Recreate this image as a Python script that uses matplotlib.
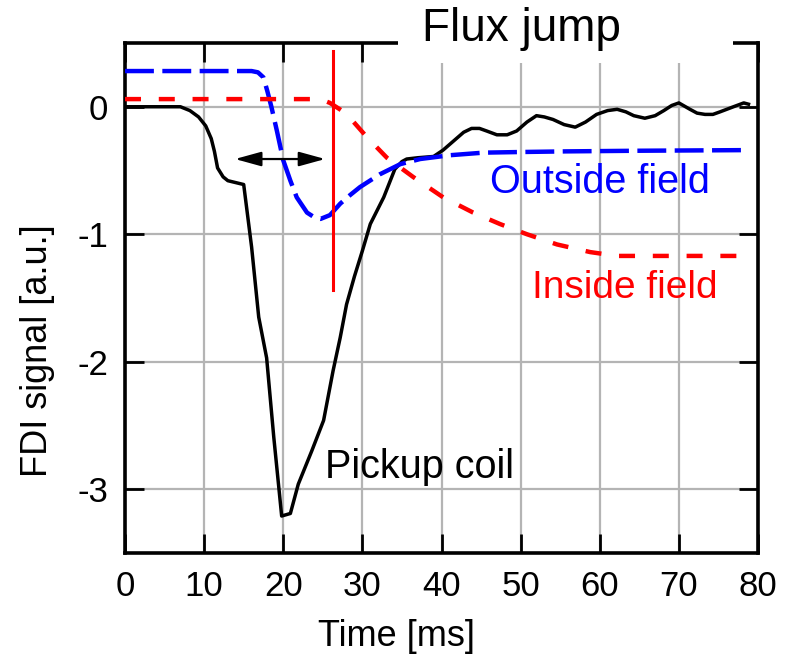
import numpy as np
import matplotlib
matplotlib.use('Agg')
import matplotlib.pyplot as plt
from matplotlib.patches import Rectangle

# pickup coil signal
t_coil = [0, 7.0, 8.2, 9.3, 10.2, 10.9, 11.3, 11.7, 12.4, 13.0, 15.0, 16.0, 16.9, 17.9,
          18.8, 19.8, 20.9, 21.9, 23.6, 25.1, 26.3, 27.2, 28.0, 29.0, 30.0, 31.0, 32.7,
          34.1, 35.0, 35.6, 37.0, 39.0, 40.2, 41.5, 42.8, 43.8, 44.8, 45.7, 47.0, 48.3,
          49.5, 50.8, 52.0, 53.0, 54.1, 55.5, 56.9, 58.2, 59.6, 61.0, 62.2, 63.3, 64.3,
          65.7, 67.0, 68.1, 69.1, 70.0, 71.4, 72.3, 73.3, 74.3, 75.2, 76.9, 78.2, 78.8]
v_coil = [0, 0, -0.03, -0.08, -0.15, -0.25, -0.35, -0.48, -0.55, -0.58, -0.61, -1.10,
          -1.65, -1.97, -2.59, -3.21, -3.19, -2.96, -2.70, -2.46, -2.07, -1.81, -1.55,
          -1.33, -1.13, -0.92, -0.71, -0.49, -0.43, -0.41, -0.40, -0.39, -0.34, -0.27,
          -0.20, -0.17, -0.17, -0.19, -0.22, -0.22, -0.19, -0.12, -0.07, -0.08, -0.10,
          -0.14, -0.16, -0.12, -0.06, -0.03, -0.02, -0.04, -0.07, -0.09, -0.07, -0.03,
          0.01, 0.03, -0.02, -0.05, -0.06, -0.06, -0.04, 0.00, 0.03, 0.02]

# outside field
t_out = [0, 16.0, 16.8, 17.5, 18.0, 18.5, 19.2, 20.0, 20.9, 21.7, 23.0, 24.0, 24.7,
         25.9, 27.2, 28.5, 29.7, 32.2, 34.8, 37.3, 41.1, 45.3, 50.0, 55.8, 65.0, 78.8]
v_out = [0.28, 0.28, 0.27, 0.23, 0.12, 0.0, -0.19, -0.42, -0.58, -0.71, -0.83, -0.87,
         -0.88, -0.85, -0.76, -0.69, -0.63, -0.53, -0.45, -0.41, -0.38, -0.36, -0.355,
         -0.35, -0.345, -0.34]

# inside field
t_in = [0, 24.7, 25.9, 27.4, 28.9, 30.6, 33.1, 36.4, 40.2, 44.0, 47.4, 50.8, 54.6,
        58.8, 62.2, 78.8]
v_in = [0.06, 0.06, 0.03, -0.03, -0.12, -0.24, -0.40, -0.55, -0.71, -0.83, -0.92,
        -1.0, -1.08, -1.14, -1.17, -1.17]

jump_t = 26.3
jump_span = [0.44, -1.44]
arrow_t = [13.9, 25.3]
arrow_v = -0.41

xticks = [0, 10, 20, 30, 40, 50, 60, 70, 80]
yticks = [0, -1, -2, -3]

plt.rcParams['font.family'] = ['Liberation Sans', 'DejaVu Sans']
plt.rcParams['axes.unicode_minus'] = False

fig = plt.figure(figsize=(7.88, 6.57), dpi=100)
ax = fig.add_axes([125/788, 1-553/657, 633/788, 510/657])

ax.plot(t_coil, v_coil, color='k', lw=2.5, zorder=3)
ax.plot(t_out, v_out, color='#0000ff', lw=3.2, dashes=(6.5, 1.9), zorder=3)
ax.plot(t_in, v_in, color='#ff0000', lw=3.2, dashes=(3.6, 4.0), zorder=3)
ax.plot([jump_t, jump_t], jump_span, color='#ff0000', lw=2.2, zorder=3)
ax.annotate('', xy=(arrow_t[0], arrow_v), xytext=(arrow_t[1], arrow_v),
            arrowprops=dict(arrowstyle='<|-|>,head_length=0.8,head_width=0.22',
                            color='k', lw=1.6, mutation_scale=20,
                            shrinkA=0, shrinkB=0))

ax.text(46.1, -0.675, 'Outside field', color='#0000ff', fontsize=28.5, va='baseline')
ax.text(51.4, -1.50, 'Inside field', color='#ff0000', fontsize=28, va='baseline')
ax.text(25.3, -2.91, 'Pickup coil', color='k', fontsize=28.5, va='baseline')

ax.set_xlim(0, 80)
ax.set_ylim(-3.5, 0.5)
ax.set_xticks(xticks)
ax.set_yticks(yticks)
ax.grid(True, color='#b4b4b4', lw=1.6)
ax.set_axisbelow(True)
ax.tick_params(direction='in', length=14, width=2, top=True, right=True,
               labelsize=25, pad=12)
for s in ax.spines.values():
    s.set_linewidth(2.6)

fig.text(397/788, 1-636/657, 'Time [ms]', ha='center', va='center', fontsize=26)
fig.text(38/788, 1-351/657, 'FDI signal [a.u.]', ha='center', va='center',
         rotation=90, fontsize=26)

# white box that breaks the top frame for the title
fig.add_artist(Rectangle((398/788, 1-63/657), (733-398)/788, 63/657,
                         transform=fig.transFigure, facecolor='white',
                         edgecolor='none', zorder=5))
fig.text(521/788, 1-41/657, 'Flux jump', ha='center', va='baseline',
         fontsize=33, zorder=6)

fig.savefig('out.png', dpi=100)
